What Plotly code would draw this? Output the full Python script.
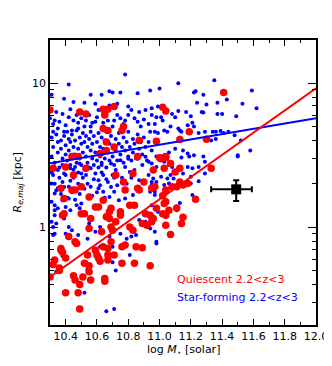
import numpy as np
import plotly.graph_objects as go

# (log stellar mass, effective radius along major axis in kpc)
star_forming = [
    (10.78, 11.5), (10.42, 9.8), (10.94, 8.9), (10.31, 8.3), (10.39, 7.8), (10.56, 8.3), (10.63, 8.3),
    (10.68, 8.8), (10.70, 8.6), (10.75, 8.6), (10.86, 8.5), (10.45, 7.4), (10.52, 7.3), (10.59, 7.2),
    (10.38, 6.1), (10.30, 5.7), (10.33, 5.5), (10.42, 5.8), (10.45, 5.5), (10.47, 6.0), (10.50, 5.7),
    (10.53, 5.5), (10.59, 5.4), (10.55, 6.0), (10.61, 6.5), (10.68, 7.0), (10.73, 7.2), (10.80, 6.9),
    (10.82, 6.5), (10.87, 6.3), (10.91, 6.5), (10.95, 6.0), (10.86, 5.4), (10.93, 5.2), (10.80, 6.0),
    (10.75, 5.7), (10.77, 5.2), (10.71, 5.5), (10.67, 5.5), (10.56, 5.0), (10.52, 5.0), (10.48, 4.85),
    (10.44, 4.7), (10.39, 4.6), (10.35, 4.85), (10.32, 4.6),
    (11.12, 10.0), (11.35, 10.5), (11.00, 9.2), (11.23, 8.8), (11.22, 8.6), (11.28, 8.3), (11.59, 8.9),
    (11.43, 7.7), (11.24, 7.3), (11.30, 7.1), (11.37, 7.3), (11.53, 7.2), (10.95, 6.7), (11.12, 6.4),
    (11.17, 6.3), (11.27, 6.3), (11.28, 6.25), (11.37, 6.1), (11.40, 6.1), (11.49, 5.9), (11.62, 6.7),
    (11.01, 5.8), (10.98, 5.8), (11.02, 5.5), (11.08, 6.1), (11.10, 5.8), (11.20, 5.9), (11.21, 5.3),
    (11.18, 5.1), (11.22, 5.0), (11.07, 5.0), (11.03, 4.7), (11.05, 4.6), (11.12, 4.85), (11.13, 4.7),
    (11.14, 4.6), (10.97, 4.6), (10.99, 4.5), (11.25, 4.5), (11.29, 4.6), (11.34, 4.6), (11.36, 4.6),
    (11.39, 4.65), (11.41, 4.5), (11.44, 4.6), (11.48, 4.35), (11.52, 4.0), (11.58, 3.4), (11.50, 3.16),
    (11.28, 3.1), (11.22, 3.16), (11.18, 3.25), (11.15, 3.4), (11.10, 3.5), (11.06, 3.3), (11.03, 3.16),
    (10.98, 3.1), (11.33, 4.0), (11.36, 4.1),
    (11.01, 3.1), (11.14, 3.05), (11.19, 3.1), (11.29, 2.85), (11.50, 3.1), (11.03, 2.85), (11.06, 2.70),
    (11.08, 2.62), (10.98, 2.62), (10.95, 2.77), (11.18, 2.62), (11.21, 2.56), (11.25, 2.62), (11.29, 2.36),
    (11.15, 2.36), (11.20, 2.24), (11.25, 2.08), (11.07, 2.30), (11.09, 2.18), (11.05, 2.18), (11.01, 2.24),
    (10.96, 2.18), (10.98, 2.06), (11.03, 1.96), (11.06, 2.01), (10.95, 1.96), (11.20, 2.01), (11.21, 1.67),
    (11.13, 1.47), (11.10, 1.35), (11.11, 1.31), (10.97, 1.76), (10.95, 1.42), (10.99, 1.28), (10.94, 0.98),
    (10.98, 0.77), (11.04, 1.71),
    (10.31, 1.50), (10.33, 1.42), (10.35, 1.35), (10.38, 1.54), (10.42, 1.58), (10.40, 1.38), (10.43, 1.31),
    (10.33, 1.21), (10.31, 1.09), (10.34, 1.06), (10.39, 1.15), (10.47, 1.42), (10.49, 1.35), (10.50, 1.46),
    (10.42, 1.00), (10.44, 0.95), (10.40, 0.90), (10.32, 0.88), (10.48, 0.88), (10.55, 1.06), (10.62, 1.00),
    (10.59, 0.93), (10.54, 0.83), (10.82, 0.86), (10.85, 0.88), (10.79, 0.83), (10.68, 0.86), (10.75, 0.90),
    (10.87, 1.12), (10.91, 1.09), (10.93, 1.00), (10.97, 0.93), (10.96, 1.09), (10.83, 1.67), (10.87, 2.12),
    (10.93, 2.30), (10.95, 2.06), (10.94, 1.76), (10.97, 1.67), (10.81, 2.42), (10.84, 2.49), (10.89, 2.70),
    (10.93, 2.85), (10.78, 2.62), (10.75, 2.92), (10.80, 2.99), (10.86, 2.99), (10.91, 3.08), (10.67, 2.06),
    (10.70, 2.30), (10.72, 2.49), (10.64, 2.30), (10.61, 2.12), (10.59, 2.36), (10.56, 2.56), (10.63, 2.70),
    (10.69, 2.77), (10.53, 2.30), (10.50, 2.36), (10.46, 2.62), (10.49, 2.77), (10.43, 2.56), (10.39, 2.36),
    (10.35, 2.49), (10.32, 2.30), (10.31, 2.01), (10.35, 1.86), (10.38, 2.06), (10.33, 1.71), (10.42, 1.91),
    (10.56, 1.91), (10.61, 1.86), (10.64, 1.76), (10.78, 1.58), (10.74, 1.54), (10.71, 1.76), (10.68, 1.62),
    (10.33, 0.60), (10.34, 0.49), (10.38, 0.63), (10.36, 0.52), (10.53, 0.57), (10.54, 0.51), (10.62, 0.73),
    (10.70, 0.73), (10.70, 0.57), (10.72, 0.50), (10.78, 0.75), (10.81, 0.64), (10.98, 0.79), (10.52, 0.35),
    (10.66, 0.26), (10.71, 0.27), (10.32, 1.00), (10.33, 0.90), (10.33, 1.31),
    (10.31, 4.2), (10.32, 3.6), (10.31, 3.1), (10.33, 2.8), (10.34, 4.4), (10.35, 3.9), (10.35, 3.3),
    (10.36, 2.6), (10.37, 4.0), (10.37, 3.5), (10.38, 3.0), (10.38, 2.7), (10.39, 4.3), (10.40, 3.7),
    (10.40, 3.2), (10.41, 2.9), (10.41, 4.6), (10.42, 4.1), (10.42, 3.4), (10.43, 2.7), (10.43, 3.9),
    (10.44, 3.0), (10.44, 4.4), (10.45, 3.6), (10.45, 2.5), (10.46, 4.0), (10.46, 3.2), (10.47, 2.8),
    (10.47, 4.7), (10.48, 3.5), (10.48, 2.4), (10.49, 4.2), (10.49, 3.0), (10.50, 3.8), (10.50, 2.7),
    (10.51, 4.5), (10.51, 3.3), (10.52, 2.5), (10.52, 3.9), (10.53, 3.1), (10.53, 4.3), (10.54, 2.8),
    (10.54, 3.6), (10.55, 4.1), (10.55, 2.6), (10.56, 3.4), (10.56, 4.6), (10.57, 3.0), (10.57, 3.8),
    (10.58, 2.7), (10.58, 4.3), (10.59, 3.3), (10.60, 2.9), (10.60, 3.9), (10.61, 4.5), (10.61, 2.6),
    (10.62, 3.6), (10.62, 3.1), (10.63, 4.2), (10.63, 2.8), (10.64, 3.5), (10.65, 3.0), (10.65, 4.0),
    (10.66, 2.6), (10.66, 4.6), (10.67, 3.3), (10.68, 3.8), (10.68, 2.9), (10.69, 4.3), (10.70, 3.1),
    (10.70, 3.6), (10.71, 2.7), (10.72, 4.1), (10.72, 3.4), (10.73, 2.9), (10.74, 3.8), (10.74, 4.5),
    (10.75, 3.2), (10.76, 3.6), (10.77, 2.8), (10.77, 4.2), (10.78, 3.4), (10.79, 3.9), (10.80, 3.1),
    (10.80, 4.6), (10.81, 3.6), (10.82, 2.9), (10.83, 4.1), (10.83, 3.3), (10.84, 3.8), (10.85, 3.0),
    (10.86, 4.4), (10.87, 3.5), (10.88, 3.9), (10.89, 3.2), (10.90, 4.2), (10.91, 3.6), (10.92, 2.9),
    (10.93, 3.9), (10.94, 4.6), (10.95, 3.4),
    (10.31, 2.4), (10.33, 2.0), (10.34, 1.8), (10.36, 2.2), (10.37, 1.7), (10.39, 1.9), (10.40, 2.3),
    (10.41, 1.6), (10.43, 2.1), (10.44, 1.75), (10.45, 2.2), (10.46, 1.55), (10.48, 2.0), (10.49, 1.7),
    (10.51, 2.2), (10.52, 1.85), (10.54, 2.0), (10.57, 1.65), (10.58, 2.15), (10.60, 1.75), (10.62, 1.95),
    (10.63, 2.4), (10.65, 1.6), (10.66, 2.15), (10.69, 1.9), (10.71, 2.2), (10.73, 1.95), (10.76, 2.2),
    (10.79, 2.0), (10.82, 2.2),
    (10.32, 5.2), (10.34, 6.3), (10.36, 5.4), (10.40, 5.1), (10.43, 6.6), (10.48, 5.3), (10.51, 6.2),
    (10.57, 5.3), (10.60, 5.8), (10.64, 5.3), (10.66, 6.3), (10.70, 5.0), (10.73, 6.0), (10.78, 5.5),
    (10.84, 5.7), (10.88, 5.0), (10.90, 5.6), (10.97, 5.2), (10.99, 6.9),
]

quiescent = [
    (10.30, 6.5), (10.49, 6.3), (10.53, 6.1), (10.64, 6.6), (10.67, 6.6), (10.71, 6.9), (10.65, 6.0),
    (10.64, 4.85), (10.67, 4.7), (10.77, 5.0), (10.76, 4.7), (10.87, 4.0), (10.98, 3.95), (10.66, 3.9),
    (10.71, 3.6), (10.62, 3.25), (10.66, 3.4), (10.45, 3.1), (10.48, 3.1), (10.86, 3.1), (10.53, 2.56),
    (10.45, 2.30), (10.37, 1.86), (10.44, 1.81), (10.46, 1.81), (10.55, 1.62), (10.50, 1.91), (10.64, 1.54),
    (10.59, 1.38), (10.61, 1.38), (10.69, 1.35), (10.68, 1.28), (10.75, 1.28), (10.81, 1.42), (10.84, 1.42),
    (10.77, 2.06), (10.83, 2.36), (10.86, 1.86), (10.87, 1.81), (10.78, 1.81), (10.97, 1.91), (10.90, 2.06),
    (10.50, 1.24), (10.52, 1.24), (10.38, 1.21), (10.56, 1.15), (10.66, 1.18), (10.68, 1.15), (10.75, 1.21),
    (10.72, 1.09), (10.55, 0.98), (10.63, 0.93), (10.69, 1.00), (10.70, 0.95), (10.81, 1.00), (10.83, 0.95),
    (10.42, 0.86), (10.46, 0.79), (10.91, 1.24), (10.94, 1.21), (10.89, 1.06), (10.92, 1.03), (10.98, 1.35),
    (10.37, 0.69), (10.38, 0.67), (10.32, 0.55), (10.36, 0.52), (10.30, 0.45), (10.40, 0.61), (10.45, 0.46),
    (10.46, 0.43), (10.49, 0.40), (10.51, 0.45), (10.52, 0.56), (10.47, 0.77), (10.55, 0.54), (10.55, 0.49),
    (10.56, 0.43), (10.54, 0.64), (10.61, 0.61), (10.62, 0.58), (10.60, 0.64), (10.65, 0.44), (10.65, 0.42),
    (10.67, 0.59), (10.67, 0.64), (10.71, 0.64), (10.67, 0.71), (10.64, 0.73), (10.69, 0.79), (10.76, 0.56),
    (10.84, 0.56), (10.76, 0.73), (10.78, 0.75), (10.85, 0.73), (10.89, 0.72), (10.94, 0.54), (10.40, 0.35),
    (10.48, 0.35), (10.49, 0.27), (10.59, 0.69), (11.01, 2.99), (11.04, 3.08), (10.96, 2.49), (11.03, 2.56),
    (11.07, 2.77), (11.13, 2.56), (11.10, 2.42), (11.33, 2.56), (10.95, 1.86), (11.08, 1.91), (11.11, 1.91),
    (11.15, 1.96), (11.18, 2.01), (11.13, 2.06), (11.04, 1.81), (11.02, 1.65), (11.23, 1.56), (11.03, 1.46),
    (11.04, 1.50), (11.11, 1.36), (11.06, 1.31), (11.02, 1.24), (11.04, 1.21), (10.96, 1.15), (10.95, 1.09),
    (11.15, 1.17), (11.14, 1.06), (11.04, 1.03), (11.07, 0.89), (11.41, 8.6), (11.02, 6.8), (11.04, 6.4),
    (11.19, 4.6), (11.13, 4.06), (11.30, 4.08), (11.00, 3.03), (11.04, 3.04), (10.40, 2.62), (10.44, 3.1),
    (10.32, 2.56), (10.39, 1.58), (10.39, 1.24), (10.33, 0.59), (10.37, 0.71), (10.36, 0.50), (10.72, 2.30),
]

# power-law fits: log10(Re) = a + b * (logM - 11)
quiescent_fit = (0.193, 0.771)
star_forming_fit = (0.573, 0.184)

# typical uncertainty point
err_mass, err_re = 11.49, 1.83
err_mass_lo, err_mass_hi = 0.16, 0.10
err_re_lo, err_re_hi = 0.31, 0.29

x_range = [10.3, 12.0]

sf_m, sf_r = zip(*star_forming)
q_m, q_r = zip(*quiescent)


def fit_line(params):
    a, b = params
    xs = np.array(x_range)
    return xs, 10 ** (a + b * (xs - 11))


fig = go.Figure()
fig.add_trace(go.Scatter(x=sf_m, y=sf_r, mode="markers",
                         marker=dict(color="blue", size=4, line=dict(width=0))))
fig.add_trace(go.Scatter(x=q_m, y=q_r, mode="markers",
                         marker=dict(color="red", size=7.5, line=dict(width=0))))
xs, ys = fit_line(star_forming_fit)
fig.add_trace(go.Scatter(x=xs, y=ys, mode="lines", line=dict(color="blue", width=2)))
xs, ys = fit_line(quiescent_fit)
fig.add_trace(go.Scatter(x=xs, y=ys, mode="lines", line=dict(color="red", width=2)))
fig.add_trace(go.Scatter(
    x=[err_mass], y=[err_re], mode="markers",
    marker=dict(color="black", size=10, symbol="square"),
    error_x=dict(type="data", symmetric=False, array=[err_mass_hi], arrayminus=[err_mass_lo],
                 color="black", thickness=2, width=3),
    error_y=dict(type="data", symmetric=False, array=[err_re_hi], arrayminus=[err_re_lo],
                 color="black", thickness=2, width=3),
))

# the page body adds an 8px margin, so the figure is 8px smaller than the window
fig.update_layout(
    width=324, height=358,
    margin=dict(l=42, r=16, t=32, b=41),
    paper_bgcolor="white",
    plot_bgcolor="white",
    showlegend=False,
    font=dict(family="DejaVu Sans", size=11, color="black"),
    xaxis=dict(
        range=x_range, automargin=False,
        tick0=10.4, dtick=0.2, tickformat=".1f",
        ticks="inside", ticklen=6, tickwidth=1, tickcolor="black",
        minor=dict(ticks="inside", dtick=0.1, ticklen=3, tickcolor="black"),
        showline=True, linecolor="black", linewidth=1.5, mirror="allticks",
        showgrid=False, zeroline=False,
    ),
    yaxis=dict(
        type="log", automargin=False,
        range=[-0.68, 1.30],
        tickvals=[1, 10], ticktext=["1", "10"],
        ticks="inside", ticklen=8, tickwidth=1, tickcolor="black",
        minor=dict(ticks="inside", ticklen=4, tickcolor="black",
                   tickvals=[0.3, 0.4, 0.5, 0.6, 0.7, 0.8, 0.9, 2, 3, 4, 5, 6, 7, 8, 9, 20]),
        showline=True, linecolor="black", linewidth=1.5, mirror="allticks",
        showgrid=False, zeroline=False,
    ),
    annotations=[
        dict(text="log <i>M</i><sub>⋆</sub> [solar]", xref="paper", yref="paper", x=0.5, y=-0.088,
             xanchor="center", yanchor="middle", showarrow=False),
        dict(text="<i>R</i><sub><i>e,maj</i></sub> [kpc]", xref="paper", yref="paper", x=-0.124, y=0.5,
             xanchor="center", yanchor="middle", textangle=-90, showarrow=False),
        dict(text="Quiescent 2.2<z<3", xref="paper", yref="paper", x=0.47, y=0.161,
             xanchor="left", yanchor="middle", showarrow=False, font=dict(color="red", size=11)),
        dict(text="Star-forming 2.2<z<3", xref="paper", yref="paper", x=0.47, y=0.098,
             xanchor="left", yanchor="middle", showarrow=False, font=dict(color="blue", size=11)),
    ],
)

fig.write_html("out.html")
